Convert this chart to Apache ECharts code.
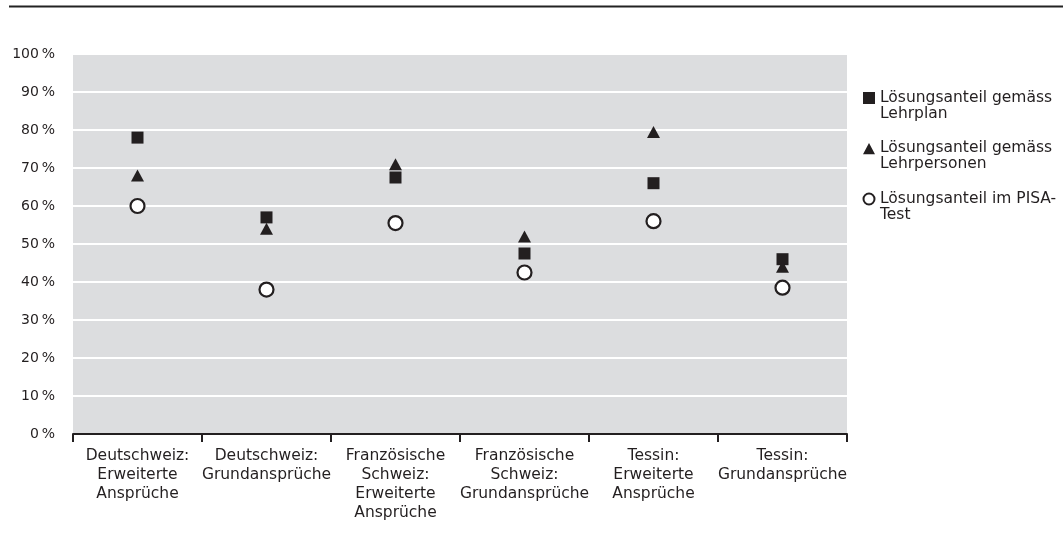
<!DOCTYPE html>
<html>
<head>
<meta charset="utf-8">
<script src="https://cdn.jsdelivr.net/npm/echarts@6/dist/echarts.min.js"></script>
<style>
html,body{margin:0;padding:0;background:#fff;}
#chart{width:1063px;height:541px;}
</style>
</head>
<body>
<div id="chart"></div>
<script>
var categories = [
  "Deutschweiz:\nErweiterte\nAnsprüche",
  "Deutschweiz:\nGrundansprüche",
  "Französische\nSchweiz:\nErweiterte\nAnsprüche",
  "Französische\nSchweiz:\nGrundansprüche",
  "Tessin:\nErweiterte\nAnsprüche",
  "Tessin:\nGrundansprüche"
];
var seriesNames = [
  "Lösungsanteil gemäss\nLehrplan",
  "Lösungsanteil gemäss\nLehrpersonen",
  "Lösungsanteil im PISA-\nTest"
];
var lehrplan = [78, 57, 67.5, 47.5, 66, 46];
var lehrpersonen = [68, 54, 71, 52, 79.5, 44];
var pisa = [60, 38, 55.5, 42.5, 56, 38.5];
var yTicks = [0, 10, 20, 30, 40, 50, 60, 70, 80, 90, 100];

var FONT = '"DejaVu Sans", "Noto Sans", sans-serif';
var INK = '#231f20';
// legend icons: shape drawn in the upper part of a 12x32 box so it lines up with the first text line
var iconSquare = 'path://M0,0L0,0M0,2L12,2L12,14L0,14ZM12,32L12,32';
var iconTriangle = 'path://M0,0L0,0M6,2L12.5,14L-0.5,14ZM12,32L12,32';
var iconCircle = 'path://M0,0L0,0M0.5,8A5.5,5.5,0,1,1,11.5,8A5.5,5.5,0,1,1,0.5,8ZM12,32L12,32';

var chart = echarts.init(document.getElementById('chart'), null, {renderer: 'canvas'});
chart.setOption({
  animation: false,
  backgroundColor: '#ffffff',
  textStyle: {fontFamily: FONT},
  graphic: [
    {type: 'line', shape: {x1: 9, y1: 6.5, x2: 1063, y2: 6.5}, style: {stroke: '#222', lineWidth: 2}}
  ],
  grid: {left: 73, right: 216, top: 54, bottom: 107, show: true, backgroundColor: '#dcdddf', borderWidth: 0},
  legend: {
    orient: 'vertical',
    left: 857,
    top: 85,
    itemGap: 18,
    itemWidth: 12,
    itemHeight: 32,
    textStyle: {fontFamily: FONT, fontSize: 15.5, color: INK, lineHeight: 16},
    data: [
      {name: seriesNames[0], icon: iconSquare},
      {name: seriesNames[1], icon: iconTriangle},
      {name: seriesNames[2], icon: iconCircle}
    ]
  },
  xAxis: {
    type: 'category',
    data: categories,
    boundaryGap: true,
    axisLine: {lineStyle: {color: INK, width: 2}},
    axisTick: {show: true, length: 8, lineStyle: {color: INK, width: 2}},
    axisLabel: {interval: 0, fontFamily: FONT, fontSize: 15.5, color: INK, lineHeight: 19, margin: 12},
    splitLine: {show: false}
  },
  yAxis: {
    type: 'value',
    min: 0, max: 100, interval: 10,
    axisLine: {show: false},
    axisTick: {show: false},
    axisLabel: {fontFamily: FONT, fontSize: 14, color: INK, margin: 18,
      formatter: function (v) { return yTicks.indexOf(v) >= 0 ? v + '\u2009%' : ''; }},
    splitLine: {show: true, lineStyle: {color: '#ffffff', width: 2}}
  },
  series: [
    {name: seriesNames[0], type: 'scatter', symbol: 'rect', symbolSize: 12, data: lehrplan,
      itemStyle: {color: INK, opacity: 1}, z: 3},
    {name: seriesNames[1], type: 'scatter', symbol: 'triangle', symbolSize: [13, 12], data: lehrpersonen,
      itemStyle: {color: INK, opacity: 1}, z: 3},
    {name: seriesNames[2], type: 'scatter', symbol: 'circle', symbolSize: 14, data: pisa,
      itemStyle: {color: '#ffffff', borderColor: INK, borderWidth: 2.2, opacity: 1}, z: 4}
  ]
});
</script>
</body>
</html>
